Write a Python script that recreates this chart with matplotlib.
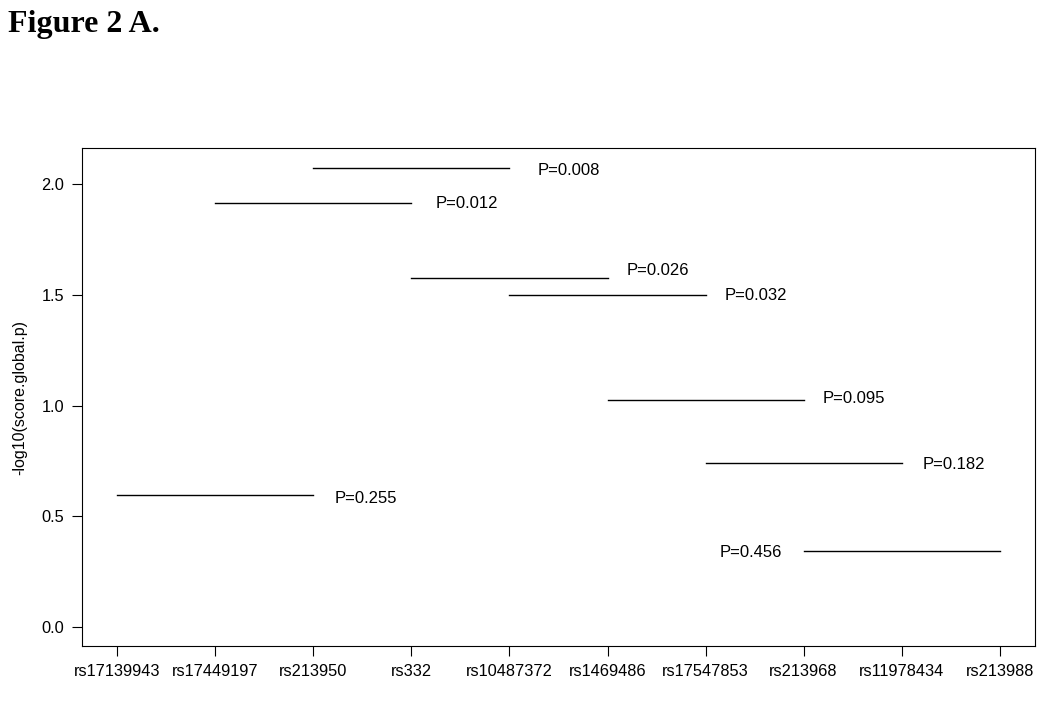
import matplotlib
matplotlib.use("Agg")
import matplotlib.pyplot as plt

snps = ["rs17139943", "rs17449197", "rs213950", "rs332", "rs10487372",
        "rs1469486", "rs17547853", "rs213968", "rs11978434", "rs213988"]
seg_start = [1, 2, 3, 4, 5, 6, 7, 8]
seg_end = [3, 4, 5, 6, 7, 8, 9, 10]
seg_y = [0.595, 1.914, 2.072, 1.575, 1.498, 1.023, 0.742, 0.344]
labels = ["P=0.255", "P=0.012", "P=0.008", "P=0.026", "P=0.032", "P=0.095", "P=0.182", "P=0.456"]
label_x = [3.22, 4.245, 5.29, 6.195, 7.195, 8.195, 9.215, 7.78]
label_y = [0.578, 1.914, 2.063, 1.612, 1.498, 1.032, 0.733, 0.335]
label_ha = ["left", "left", "left", "left", "left", "left", "left", "right"]

plt.rcParams['font.family'] = ['Liberation Sans', 'DejaVu Sans']
fig = plt.figure(figsize=(10.5, 7.03), dpi=100)
ax = fig.add_axes([82/1050, 1 - 646/703, (1035-82)/1050, (646-148)/703])

for s, e, y in zip(seg_start, seg_end, seg_y):
    ax.plot([s, e], [y, y], color='black', lw=1.0)
for lab, lx, ly, ha in zip(labels, label_x, label_y, label_ha):
    ax.text(lx, ly, lab, ha=ha, va='center', fontsize=12)

ax.set_xlim(0.64, 10.36)
ax.set_ylim(-0.086, 2.163)
ax.set_xticks(range(1, len(snps) + 1))
ax.set_xticklabels(snps, fontsize=11.8)
ax.set_yticks([0.0, 0.5, 1.0, 1.5, 2.0])
ax.set_yticklabels(["0.0", "0.5", "1.0", "1.5", "2.0"], fontsize=11.8)
ax.tick_params(axis='both', length=7, width=0.8, pad=6)
for sp in ax.spines.values():
    sp.set_linewidth(0.8)
ax.set_ylabel("-log10(score.global.p)", fontsize=11.5, labelpad=10)

fig.text(8/1050, 1 - 32/703, "Figure 2 A.", family=['Liberation Serif', 'DejaVu Serif'],
         fontweight='bold', fontsize=23, ha='left', va='baseline')

fig.savefig("out.png", dpi=100)
